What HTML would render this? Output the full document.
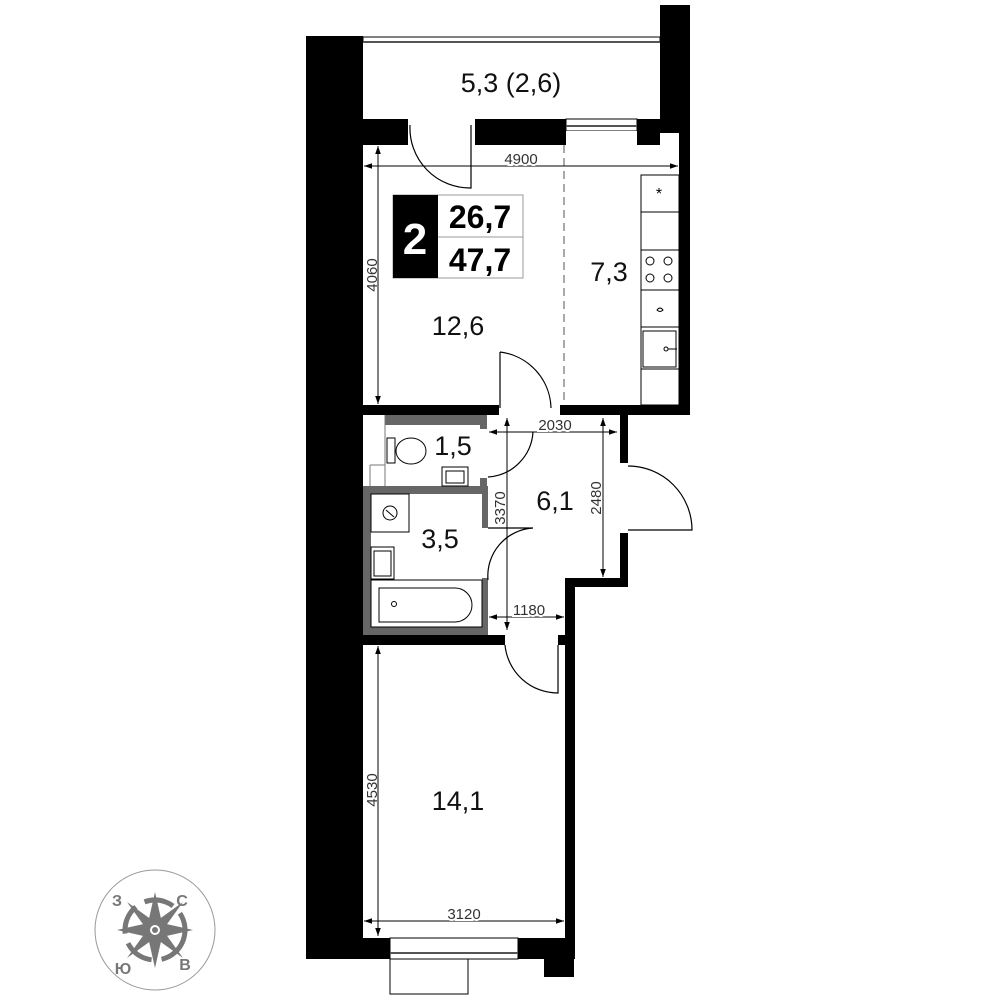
<!DOCTYPE html>
<html><head><meta charset="utf-8"><style>
html,body{margin:0;padding:0;background:#fff;}
svg{display:block;}
text{font-family:"Liberation Sans","DejaVu Sans",sans-serif;}
</style></head><body>
<svg width="1000" height="1000" viewBox="0 0 1000 1000" xmlns="http://www.w3.org/2000/svg">
<defs>
<marker id="a" viewBox="0 0 10 10" refX="10" refY="5" markerWidth="8" markerHeight="8" orient="auto-start-reverse"><path d="M0,1.5 L10,5 L0,8.5 z" fill="#000"/></marker>
</defs>
<g fill="#000">
<rect x="306" y="36" width="57" height="923"/>
<rect x="660" y="5" width="30" height="128"/>
<rect x="363" y="119" width="45" height="26"/>
<rect x="475" y="119" width="91" height="26"/>
<rect x="637" y="119" width="23" height="26"/>
<rect x="679" y="133" width="11" height="282"/>
<rect x="363" y="405" width="136" height="10"/>
<rect x="560" y="405" width="130" height="10"/>
<rect x="620" y="415" width="8" height="48"/>
<rect x="620" y="533" width="8" height="54"/>
<rect x="565" y="578" width="63" height="9"/>
<rect x="565" y="578" width="10" height="360"/>
<rect x="363" y="635" width="142" height="10"/>
<rect x="558" y="635" width="17" height="10"/>
<rect x="363" y="938" width="27" height="21"/>
<rect x="518" y="938" width="57" height="21"/>
<rect x="544" y="938" width="30" height="39"/>
</g>
<rect x="363" y="37" width="297" height="5" fill="#fff" stroke="#000" stroke-width="1"/>
<line x1="363" y1="42" x2="660" y2="42" stroke="#555" stroke-width="2"/>
<rect x="566" y="119" width="71" height="12" fill="#fff" stroke="#000" stroke-width="1"/>
<line x1="566" y1="126" x2="637" y2="126" stroke="#555" stroke-width="2"/>
<rect x="566" y="131" width="71" height="14" fill="#fff"/>
<rect x="390" y="938" width="128" height="21" fill="#fff" stroke="#000" stroke-width="1"/>
<line x1="390" y1="953" x2="518" y2="953" stroke="#555" stroke-width="2"/>
<rect x="390" y="959" width="78" height="35" fill="#fff" stroke="#000" stroke-width="1"/>
<g fill="#666">
<rect x="385" y="415" width="96" height="10"/>
<rect x="480" y="415" width="7" height="14"/>
<rect x="480" y="478" width="7" height="16"/>
<rect x="363" y="486" width="125" height="8"/>
<rect x="363" y="486" width="8" height="149"/>
<rect x="363" y="627" width="125" height="8"/>
<rect x="482" y="486" width="6" height="42"/>
<rect x="482" y="578" width="6" height="57"/>
</g>
<g fill="none" stroke="#777" stroke-width="1">
<line x1="385" y1="415" x2="385" y2="486"/>
<line x1="370" y1="465" x2="385" y2="465"/>
<line x1="370" y1="465" x2="370" y2="486"/>
</g>
<g fill="none" stroke="#000" stroke-width="1.2">
<path d="M410,125 A60,60 0 0 0 471,188 L471,125"/>
<path d="M500,352 A58,58 0 0 1 551,408 M500,352 L500,408"/>
<path d="M488,477 A48,48 0 0 0 533,432"/>
<path d="M488,528 L533,528 A48,48 0 0 0 488,580"/>
<path d="M628,466 A64,64 0 0 1 692,530 L628,530"/>
<path d="M505,645 A53,53 0 0 0 558,693 L558,645"/>
</g>
<g fill="#fff" stroke="#000" stroke-width="1">
<rect x="641" y="175" width="38" height="37"/>
<rect x="641" y="212" width="38" height="38"/>
<rect x="641" y="250" width="38" height="40"/>
<rect x="641" y="290" width="38" height="37"/>
<rect x="641" y="327" width="38" height="42"/>
<rect x="643" y="331" width="33" height="36"/>
<rect x="641" y="369" width="38" height="36"/>
<circle cx="650" cy="261" r="4"/><circle cx="668" cy="261" r="4"/>
<circle cx="650" cy="278" r="4"/><circle cx="668" cy="278" r="4"/>
<path d="M657,310 q3,-4 6,0 q-3,3 -6,0z"/>
<line x1="666" y1="349" x2="677" y2="349"/>
<circle cx="666" cy="349" r="2"/>
<rect x="387" y="438" width="8" height="25"/>
<ellipse cx="411" cy="451" rx="15" ry="13"/>
<rect x="442" y="467" width="26" height="19"/>
<rect x="446" y="471" width="18" height="12"/>
<rect x="371" y="494" width="38" height="38"/>
<circle cx="390" cy="513" r="7"/>
<line x1="386" y1="510" x2="394" y2="517"/>
<rect x="371" y="547" width="23" height="32"/>
<rect x="374" y="551" width="17" height="25"/>
<rect x="371" y="580" width="111" height="47"/>
<path d="M379,588 L455,588 A17,17 0 0 1 455,622 L379,622z"/>
<circle cx="394" cy="604" r="2.5"/>
</g>
<text x="659" y="199" font-size="16" text-anchor="middle">*</text>
<line x1="564" y1="145" x2="564" y2="405" stroke="#555" stroke-width="1" stroke-dasharray="8,5"/>
<g stroke="#000" stroke-width="1" marker-start="url(#a)" marker-end="url(#a)">
<line x1="364" y1="166" x2="678" y2="166"/>
<line x1="378" y1="146" x2="378" y2="404"/>
<line x1="489" y1="432" x2="617" y2="432"/>
<line x1="507" y1="418" x2="507" y2="630"/>
<line x1="603" y1="418" x2="603" y2="577"/>
<line x1="489" y1="617" x2="564" y2="617"/>
<line x1="378" y1="646" x2="378" y2="936"/>
<line x1="364" y1="921" x2="564" y2="921"/>
</g>
<g font-size="15" fill="#333">
<text x="521" y="164" text-anchor="middle" stroke="#fff" stroke-width="4" paint-order="stroke">4900</text>
<text x="555" y="430" text-anchor="middle" stroke="#fff" stroke-width="4" paint-order="stroke">2030</text>
<text x="529" y="615" text-anchor="middle" stroke="#fff" stroke-width="4" paint-order="stroke">1180</text>
<text x="464" y="919" text-anchor="middle" stroke="#fff" stroke-width="4" paint-order="stroke">3120</text>
<text transform="translate(377,275) rotate(-90)" text-anchor="middle">4060</text>
<text transform="translate(505,508) rotate(-90)" text-anchor="middle">3370</text>
<text transform="translate(601,498) rotate(-90)" text-anchor="middle">2480</text>
<text transform="translate(377,790) rotate(-90)" text-anchor="middle">4530</text>
</g>
<rect x="393" y="195" width="130" height="83" fill="#fff" stroke="#999" stroke-width="1"/>
<line x1="438" y1="237" x2="523" y2="237" stroke="#999"/>
<rect x="393" y="195" width="45" height="83" fill="#000"/>
<text x="415" y="254" font-size="44" font-weight="bold" fill="#fff" text-anchor="middle">2</text>
<text x="480" y="228" font-size="32" font-weight="bold" text-anchor="middle">26,7</text>
<text x="480" y="271" font-size="32" font-weight="bold" text-anchor="middle">47,7</text>
<g font-size="27" fill="#111" text-anchor="middle">
<text x="511" y="92">5,3 (2,6)</text>
<text x="609" y="281">7,3</text>
<text x="458" y="335">12,6</text>
<text x="453" y="455">1,5</text>
<text x="555" y="510">6,1</text>
<text x="440" y="548">3,5</text>
<text x="458" y="810">14,1</text>
</g>
<g transform="translate(155,930)">
<circle r="60" fill="#fff" stroke="#999" stroke-width="1"/>
<circle r="30" fill="none" stroke="#777" stroke-width="5" stroke-dasharray="30,10" transform="rotate(20)"/>
<g fill="#777">
<path d="M0,-38 L7,-7 L0,0 L-7,-7z"/><path d="M0,38 L7,7 L0,0 L-7,7z"/>
<path d="M-38,0 L-7,7 L0,0 L-7,-7z"/><path d="M38,0 L7,7 L0,0 L7,-7z"/>
<path d="M-28,-28 L-3,-10 L0,0 L-10,-3z"/><path d="M28,-28 L3,-10 L0,0 L10,-3z"/>
<path d="M-28,28 L-3,10 L0,0 L-10,3z"/><path d="M28,28 L3,10 L0,0 L10,3z"/>
</g>
<circle r="9" fill="#777"/><circle r="5" fill="#fff"/><circle r="3" fill="#777"/>
<g font-size="16" font-weight="bold" fill="#777" text-anchor="middle">
<text x="-38" y="-24">З</text><text x="27" y="-24">С</text>
<text x="-32" y="44">Ю</text><text x="30" y="40">В</text>
</g>
</g>
</svg>
</body></html>
